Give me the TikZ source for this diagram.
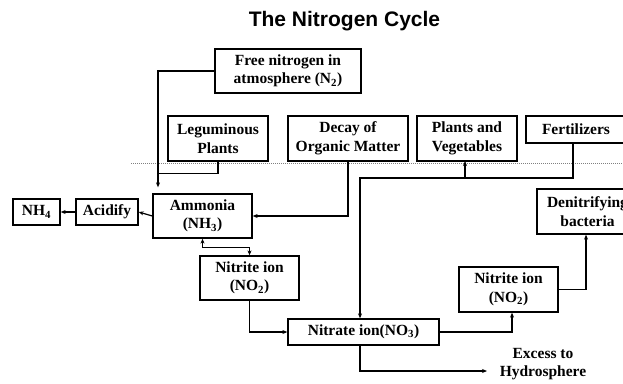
\documentclass[tikz,border=0pt]{standalone}
\usepackage{fontspec}
\setmainfont{Liberation Serif}
\newfontfamily\headfont{Liberation Sans}
\usetikzlibrary{arrows.meta}
\tikzset{
  % --- boxes -------------------------------------------------------------------
  box/.style={draw,line width=1.3pt,align=center,inner sep=1pt,
              font=\fontsize{15.5}{18.5}\selectfont\bfseries},
  % --- connectors --------------------------------------------------------------
  ar/.style={-{Stealth[length=5pt,width=4pt]},line width=1.2pt},
  arr/.style={{Stealth[length=5pt,width=4pt]}-{Stealth[length=5pt,width=4pt]},
              line width=1.2pt},
  ln/.style={line width=1.2pt},
}
\begin{document}
\begin{tikzpicture}[x=1pt,y=-1pt]
  \useasboundingbox (0,0) rectangle (623,383);
  \clip (0,0) rectangle (623,383);

  \node[font=\headfont\fontsize{21}{24}\selectfont\bfseries] (title) at (344.5,21)
       {The Nitrogen Cycle};

  % ground level
  \draw[gray,densely dotted,line width=1pt] (131,163) -- (623,163);

  % top row
  \node[box,minimum width=146pt,minimum height=44pt] (free) at (288,71)
       {Free nitrogen in\\atmosphere (N\textsubscript{2})};
  \node[box,minimum width=100pt,minimum height=45pt] (legum) at (218,138.5)
       {Leguminous\\Plants};
  \node[box,minimum width=120pt,minimum height=45pt] (decay) at (348,138.5)
       {Decay of\\Organic Matter};
  \node[box,minimum width=100pt,minimum height=45pt] (plants) at (467,138.5)
       {Plants and\\Vegetables};
  \node[box,minimum width=100pt,minimum height=27pt] (fert) at (576,129.5)
       {Fertilizers};

  % middle
  \node[box,minimum width=99pt,minimum height=44pt] (ammonia) at (202.5,216)
       {Ammonia\\(NH\textsubscript{3})};
  \node[box,minimum width=62pt,minimum height=26pt] (acidify) at (107,212)
       {Acidify};
  \node[box,minimum width=47pt,minimum height=26pt] (nhfour) at (36.5,212)
       {NH\textsubscript{4}};
  \node[box,minimum width=99pt,minimum height=44pt] (nitriteL) at (249.5,278)
       {Nitrite ion\\(NO\textsubscript{2})};
  \node[box,minimum width=151pt,minimum height=26pt] (nitrate) at (363.5,332)
       {Nitrate ion(NO\textsubscript{3})};
  \node[box,minimum width=99pt,minimum height=45pt] (nitriteR) at (508.5,289.5)
       {Nitrite ion\\(NO\textsubscript{2})};
  \node[box,minimum width=101pt,minimum height=45pt] (denit) at (587.5,211.5)
       {Denitrifying\\bacteria};
  \node[align=center,font=\fontsize{15.5}{18.5}\selectfont\bfseries] (excess)
       at (543,364) {Excess to\\Hydrosphere};

  % junctions
  \coordinate (nfix) at (158,71);
  \coordinate (fjoin) at (573,178);
  \coordinate (fleft) at (360,178);

  \draw[ar,shorten >=6pt] (free.west) -- (nfix) -- (nfix |- ammonia.north);
  \draw[ln] (legum.south) -- ++(0,12) -| (nfix);
  \draw[ar] (decay.south) |- (ammonia.east);
  \draw[ar] (ammonia.west) -- (acidify.east);
  \draw[ar] (acidify.west) -- (nhfour.east);
  \draw[arr] (ammonia.south) -- ++(0,9) -| (nitriteL.north);
  \draw[ar] (nitriteL.south) |- (nitrate.west);

  % fertilizers to plants and nitrate
  \draw[ar] (fjoin |- fert.south) -- (fjoin) -- (fleft) -- (fleft |- nitrate.north);
  \draw[ar] (465,178) -- (465,161);

  \draw[ar] (nitrate.east) -| ([xshift=3.5pt]nitriteR.south);
  \draw[ar] (nitriteR.east) -| ([xshift=-1.5pt]denit.south);
  \draw[ar] (fleft |- nitrate.south) -- (360,371) -- (487,371);
\end{tikzpicture}
\end{document}
